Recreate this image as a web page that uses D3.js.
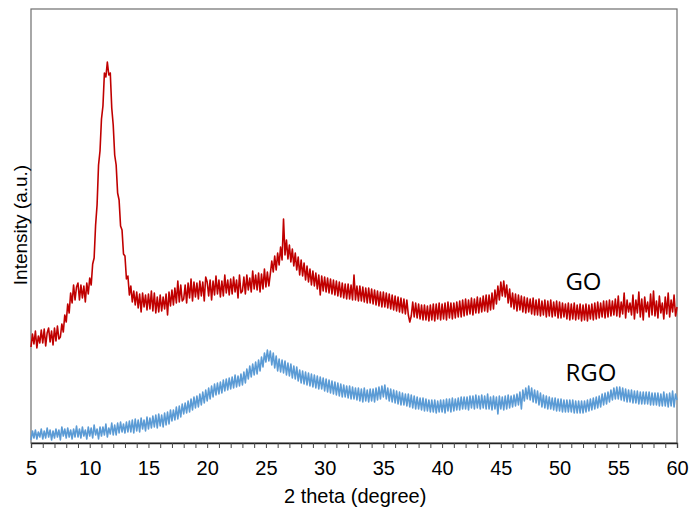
<!DOCTYPE html>
<html>
<head>
  <meta charset="utf-8">
  <title>XRD of GO and RGO</title>
  <style>
    body { margin: 0; background: white; }
    .tick-label { font-family: "Liberation Sans", Arial, sans-serif; font-size: 20px; fill: #000; }
    .axis-title { font-family: "Liberation Sans", Arial, sans-serif; fill: #000; }
    .series-label { font-family: "Open Sans", "Noto Sans", sans-serif; font-size: 24px; fill: #000; }
  </style>
  <script src="https://d3js.org/d3.v7.min.js"></script>
</head>
<body>
  <svg id="chart" width="690" height="508"></svg>
  <script>
    // 2 theta grid: first angle and spacing of the readings below
    const startAngle = 5;
    const angleStep = 0.125;

    // GO intensity (a.u.), every 0.125 degree, one row per degree (5..59), then 60
    const goIntensity = [
      96, 109, 99, 112, 95, 107, 100, 113,
      100, 114, 97, 110, 115, 101, 112, 98,
      115, 102, 117, 104, 106, 119, 111, 128,
      121, 139, 130, 150, 140, 158, 143, 156,
      160, 143, 158, 145, 157, 141, 160, 149,
      165, 158, 179, 185, 218, 238, 278, 292,
      324, 337, 370, 366, 381, 368, 370, 335,
      318, 288, 278, 250, 243, 217, 213, 189,
      187, 164, 167, 148, 157, 141, 152, 138,
      151, 135, 149, 131, 150, 136, 148, 133,
      149, 134, 152, 132, 150, 130, 146, 131,
      148, 132, 146, 134, 149, 128, 151, 137,
      153, 138, 155, 140, 162, 141, 158, 142,
      144, 158, 140, 160, 145, 164, 142, 161,
      146, 160, 144, 162, 147, 161, 142, 166,
      161, 147, 163, 143, 162, 148, 167, 149,
      163, 146, 162, 147, 168, 150, 163, 148,
      164, 149, 166, 151, 163, 145, 168, 150,
      152, 166, 149, 168, 153, 165, 151, 172,
      154, 168, 153, 170, 151, 169, 154, 174,
      156, 171, 157, 169, 182, 171, 187, 173,
      190, 178, 196, 183, 224, 188, 203, 184,
      198, 181, 194, 177, 190, 173, 186, 168,
      183, 167, 180, 163, 177, 161, 174, 158,
      172, 157, 170, 154, 168, 148, 167, 152,
      166, 151, 165, 150, 164, 149, 163, 148,
      162, 147, 161, 146, 160, 145, 159, 144,
      159, 144, 158, 143, 168, 143, 157, 142,
      157, 142, 156, 141, 155, 140, 155, 140,
      154, 139, 153, 138, 152, 137, 151, 136,
      151, 136, 150, 135, 149, 134, 148, 133,
      147, 132, 146, 131, 145, 130, 144, 129,
      143, 128, 121, 127, 141, 126, 140, 125,
      139, 124, 138, 123, 138, 123, 137, 122,
      138, 123, 139, 122, 139, 124, 140, 123,
      139, 124, 140, 123, 141, 125, 140, 124,
      140, 125, 141, 126, 142, 126, 143, 127,
      144, 128, 143, 129, 145, 128, 144, 130,
      146, 130, 145, 131, 147, 132, 148, 131,
      148, 133, 150, 134, 153, 139, 157, 143,
      161, 147, 162, 146, 158, 140, 154, 136,
      150, 134, 149, 132, 148, 133, 147, 131,
      146, 130, 145, 131, 144, 129, 145, 128,
      143, 128, 144, 127, 142, 128, 143, 126,
      142, 127, 143, 126, 141, 127, 142, 125,
      141, 125, 140, 126, 139, 124, 140, 123,
      139, 124, 140, 123, 138, 124, 139, 122,
      138, 123, 139, 122, 138, 124, 139, 123,
      140, 124, 141, 125, 140, 126, 142, 125,
      142, 126, 143, 127, 142, 128, 144, 127,
      147, 126, 141, 129, 150, 125, 143, 131,
      140, 128, 148, 124, 143, 130, 151, 126,
      144, 123, 146, 131, 141, 126, 149, 128,
      152, 127, 142, 125, 147, 130, 140, 124,
      146, 129, 150, 126, 143, 131, 148, 127,
      136
    ];

    // RGO intensity (a.u.), same angles
    const rgoIntensity = [
      3, 12, 5, 13, 4, 11, 6, 14,
      4, 12, 5, 15, 6, 13, 3, 12,
      5, 14, 6, 13, 3, 16, 7, 14,
      5, 15, 6, 13, 4, 14, 6, 17,
      6, 14, 5, 16, 7, 13, 4, 16,
      7, 15, 5, 18, 8, 14, 4, 16,
      7, 16, 8, 19, 6, 15, 9, 20,
      8, 18, 8, 20, 10, 21, 11, 19,
      10, 21, 11, 22, 11, 23, 10, 24,
      12, 23, 11, 25, 14, 23, 12, 26,
      14, 25, 15, 27, 16, 28, 15, 29,
      17, 28, 16, 30, 18, 31, 19, 33,
      22, 33, 23, 36, 24, 37, 26, 39,
      29, 40, 30, 42, 31, 44, 33, 46,
      35, 47, 36, 49, 38, 51, 40, 53,
      42, 55, 44, 57, 46, 59, 48, 60,
      49, 61, 50, 63, 52, 64, 53, 65,
      54, 66, 55, 68, 56, 67, 57, 69,
      58, 71, 60, 74, 64, 77, 66, 79,
      68, 81, 69, 83, 72, 86, 76, 90,
      81, 93, 82, 92, 78, 90, 75, 87,
      72, 84, 71, 83, 70, 82, 68, 80,
      67, 79, 65, 77, 64, 76, 62, 73,
      60, 72, 59, 71, 58, 70, 57, 69,
      56, 68, 55, 67, 54, 66, 54, 65,
      52, 64, 51, 63, 50, 62, 49, 61,
      48, 60, 47, 59, 46, 58, 46, 57,
      45, 57, 44, 56, 44, 55, 43, 55,
      42, 54, 41, 55, 42, 53, 41, 54,
      42, 54, 41, 55, 43, 56, 44, 57,
      46, 58, 44, 55, 42, 54, 41, 53,
      40, 52, 39, 51, 38, 50, 38, 49,
      37, 49, 36, 48, 35, 47, 34, 46,
      34, 45, 33, 45, 32, 44, 32, 43,
      31, 43, 31, 43, 30, 42, 31, 43,
      31, 43, 30, 44, 32, 44, 31, 45,
      32, 44, 33, 45, 33, 46, 34, 46,
      34, 46, 33, 47, 35, 47, 34, 48,
      35, 47, 34, 48, 35, 47, 34, 49,
      34, 46, 33, 47, 34, 46, 29, 47,
      34, 46, 33, 47, 34, 48, 35, 47,
      36, 48, 37, 49, 38, 51, 34, 53,
      42, 55, 44, 57, 43, 55, 41, 53,
      40, 52, 38, 50, 36, 48, 35, 47,
      34, 46, 34, 45, 33, 45, 32, 44,
      32, 44, 31, 43, 31, 43, 31, 43,
      31, 43, 30, 42, 30, 42, 30, 42,
      30, 42, 31, 43, 32, 44, 33, 45,
      34, 46, 35, 47, 36, 49, 38, 50,
      39, 51, 41, 53, 43, 55, 44, 56,
      44, 56, 43, 55, 42, 54, 41, 53,
      41, 53, 40, 52, 40, 52, 39, 51,
      39, 51, 39, 51, 39, 51, 38, 50,
      38, 50, 38, 50, 37, 49, 37, 51,
      37, 49, 36, 50, 37, 52, 36, 49,
      43
    ];

    const xTickValues = [5, 10, 15, 20, 25, 30, 35, 40, 45, 50, 55, 60];
    const seriesNames = ["GO", "RGO"];
    const seriesColors = ["#c00000", "#5b9bd5"];
    const labelAt = [{ x: 50.5, y: 153 }, { x: 50.5, y: 62 }];

    const margin = { top: 9, right: 13, bottom: 65, left: 31 };
    const width = 690 - margin.left - margin.right;
    const height = 508 - margin.top - margin.bottom;

    const svg = d3.select("#chart");
    const g = svg.append("g").attr("transform", `translate(${margin.left},${margin.top})`);

    const x = d3.scaleLinear().domain([5, 60]).range([0, width]);
    const y = d3.scaleLinear().domain([0, 434]).range([height, 0]);

    // plot frame
    g.append("rect")
      .attr("x", 0).attr("y", 0)
      .attr("width", width).attr("height", height)
      .attr("fill", "none")
      .attr("stroke", "#6e6e6e")
      .attr("stroke-width", 1.2);

    const toPoints = arr => arr.map((v, i) => ({ angle: startAngle + i * angleStep, value: v }));

    const line = d3.line()
      .x(d => x(d.angle))
      .y(d => y(d.value));

    [goIntensity, rgoIntensity].forEach((arr, i) => {
      g.append("path")
        .datum(toPoints(arr))
        .attr("fill", "none")
        .attr("stroke", seriesColors[i])
        .attr("stroke-width", 1.6)
        .attr("stroke-linejoin", "round")
        .attr("d", line);
    });

    // bottom axis: a tick every degree, labels every 5
    const xAxis = d3.axisBottom(x)
      .ticks(55)
      .tickSize(5)
      .tickFormat(d => xTickValues.includes(d) ? d : "");

    const axisG = g.append("g")
      .attr("transform", `translate(0,${height})`)
      .call(xAxis);
    axisG.select(".domain").attr("stroke", "#222").attr("stroke-width", 1.3);
    axisG.selectAll(".tick line").attr("stroke", "#444");
    axisG.selectAll(".tick text")
      .attr("class", "tick-label")
      .attr("y", 18);
    axisG.attr("font-size", null).attr("font-family", null);

    g.append("text")
      .attr("class", "axis-title")
      .attr("x", x(32.6))
      .attr("y", height + 60)
      .attr("text-anchor", "middle")
      .attr("font-size", 20)
      .text("2 theta (degree)");

    g.append("text")
      .attr("class", "axis-title")
      .attr("transform", "rotate(-90)")
      .attr("x", -(225 - margin.top))
      .attr("y", -4)
      .attr("text-anchor", "middle")
      .attr("font-size", 19)
      .text("Intensity (a.u.)");

    seriesNames.forEach((name, i) => {
      g.append("text")
        .attr("class", "series-label")
        .attr("x", x(labelAt[i].x))
        .attr("y", y(labelAt[i].y))
        .text(name);
    });
  </script>
</body>
</html>
